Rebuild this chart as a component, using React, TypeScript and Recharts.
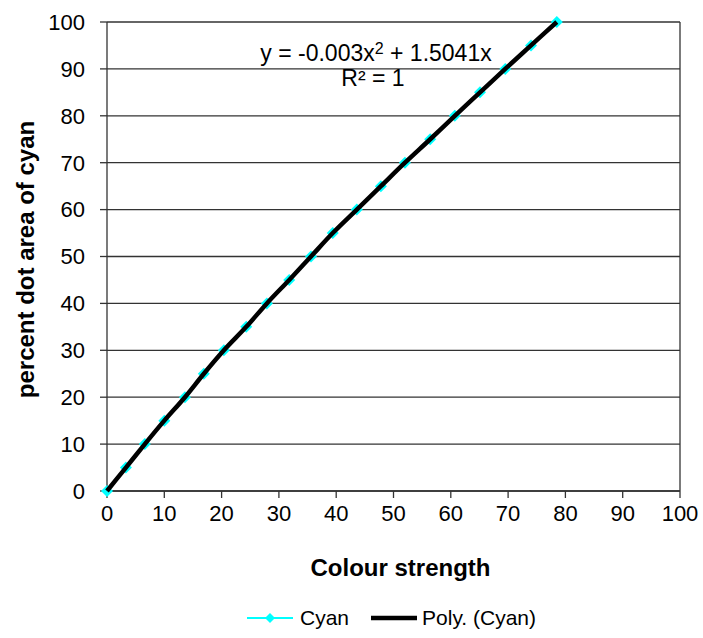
import React from 'react'
import {
  LineChart,
  Line,
  XAxis,
  YAxis,
  CartesianGrid,
  ReferenceLine,
  Legend,
} from 'recharts'

// colour strength (x) for each dot area step
const strength = [
  0, 3.3, 6.6, 10.0, 13.6, 16.9, 20.4, 24.3, 27.9, 31.8, 35.6, 39.4, 43.6,
  47.8, 52.0, 56.4, 60.7, 65.1, 69.5, 74.0, 78.5,
]
const dotArea = [
  0, 5, 10, 15, 20, 25, 30, 35, 40, 45, 50, 55, 60, 65, 70, 75, 80, 85, 90, 95,
  100,
]
const ticks = [0, 10, 20, 30, 40, 50, 60, 70, 80, 90, 100]

const FONT = '"Liberation Sans", Arial, sans-serif'
const CYAN = '#00FFFF'
const AXIS = '#333333'

const data = strength.map((s, i) => ({ strength: s, area: dotArea[i] }))

const Diamond = (props: any) => {
  const { cx, cy } = props
  if (cx == null || cy == null) return null
  const r = 6
  return (
    <polygon
      points={`${cx},${cy - r} ${cx + r},${cy} ${cx},${cy + r} ${cx - r},${cy}`}
      fill={CYAN}
      stroke="none"
    />
  )
}

const XTitle = (props: any) => {
  const { viewBox } = props
  return (
    <text
      x={viewBox.x + viewBox.width / 2 + 7}
      y={viewBox.y + 85}
      textAnchor="middle"
      fontFamily={FONT}
      fontWeight="bold"
      fontSize={24}
      fill="#000"
    >
      Colour strength
    </text>
  )
}

const YTitle = (props: any) => {
  const { viewBox } = props
  const cx = 25
  const cy = viewBox.y + viewBox.height / 2 + 3
  return (
    <text
      x={cx}
      y={cy}
      transform={`rotate(-90, ${cx}, ${cy})`}
      textAnchor="middle"
      dominantBaseline="central"
      fontFamily={FONT}
      fontWeight="bold"
      fontSize={24}
      fill="#000"
    >
      percent dot area of cyan
    </text>
  )
}

const LegendBox = () => (
  <div
    style={{
      height: 40,
      display: 'flex',
      alignItems: 'center',
      fontFamily: FONT,
      fontSize: 21,
      color: '#000',
      paddingLeft: 247,
    }}
  >
    <svg width={46} height={14} style={{ marginRight: 7 }}>
      <line x1={0} y1={7} x2={46} y2={7} stroke={CYAN} strokeWidth={2} />
      <polygon points="23,2 28,7 23,12 18,7" fill={CYAN} />
    </svg>
    <span style={{ marginRight: 22 }}>Cyan</span>
    <svg width={46} height={14} style={{ marginRight: 5 }}>
      <line x1={0} y1={7} x2={46} y2={7} stroke="#000" strokeWidth={4.5} />
    </svg>
    <span>Poly. (Cyan)</span>
  </div>
)

export default function App() {
  return (
    <div
      style={{
        position: 'absolute',
        left: 0,
        top: 0,
        width: 703,
        height: 638,
        background: '#fff',
      }}
    >
      <LineChart
        width={703}
        height={638}
        data={data}
        margin={{ top: 22, right: 23, left: 0, bottom: 0 }}
      >
        <CartesianGrid vertical={false} stroke={AXIS} strokeWidth={1.3} />
        <XAxis
          dataKey="strength"
          type="number"
          domain={[0, 100]}
          ticks={ticks}
          interval={0}
          height={107}
          tickSize={7}
          tickMargin={7}
          stroke={AXIS}
          strokeWidth={1.3}
          tick={{ fill: '#000', fontSize: 22, fontFamily: FONT }}
          label={<XTitle />}
        />
        <YAxis
          type="number"
          domain={[0, 100]}
          ticks={ticks}
          interval={0}
          width={107}
          tickSize={7}
          tickMargin={15}
          stroke={AXIS}
          strokeWidth={1.3}
          tick={{ fill: '#000', fontSize: 22, fontFamily: FONT }}
          label={<YTitle />}
        />
        <ReferenceLine x={100} stroke={AXIS} strokeWidth={1.3} />
        <Legend verticalAlign="bottom" content={<LegendBox />} />
        <Line
          dataKey="area"
          name="Cyan"
          stroke={CYAN}
          strokeWidth={2}
          dot={<Diamond />}
          activeDot={false}
          isAnimationActive={false}
        />
      </LineChart>
      {/* trendline drawn in an overlay so it sits above the cyan markers */}
      <div style={{ position: 'absolute', left: 0, top: 0 }}>
        <LineChart
          width={703}
          height={638}
          data={data}
          margin={{ top: 22, right: 23, left: 107, bottom: 147 }}
        >
          <XAxis dataKey="strength" type="number" domain={[0, 100]} hide />
          <YAxis type="number" domain={[0, 100]} hide />
          <Line
            dataKey="area"
            name="Poly. (Cyan)"
            type="monotone"
            stroke="#000"
            strokeWidth={4.5}
            dot={false}
            activeDot={false}
            isAnimationActive={false}
          />
        </LineChart>
      </div>
      <div
        style={{
          position: 'absolute',
          left: 376,
          top: 35,
          transform: 'translateX(-50%)',
          fontFamily: FONT,
          fontSize: 23,
          whiteSpace: 'nowrap',
          textAlign: 'center',
          lineHeight: '27px',
          color: '#000',
        }}
      >
        <div>
          y = -0.003x<sup style={{ fontSize: 16, verticalAlign: 7 }}>2</sup> + 1.5041x
        </div>
        <div style={{ marginLeft: -6, marginTop: -2 }}>R² = 1</div>
      </div>
    </div>
  )
}
